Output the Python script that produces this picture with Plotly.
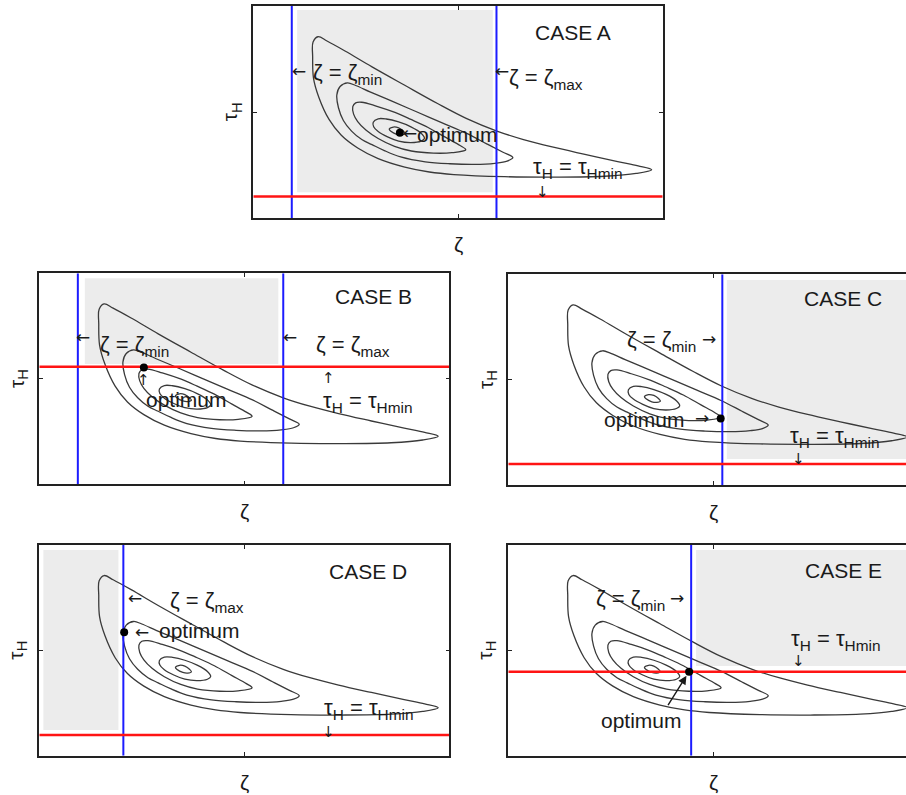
import plotly.graph_objects as go

# ---------------- data (panel units: x 0-100 across frame, y 0-100 up frame) -------------
cases = ["A", "B", "C", "D", "E"]
zeta_min = [9.4, 9.4, 52.2, None, 44.6]
zeta_max = [59.4, 59.5, None, 20.5, None]
tau_h_min = [10.2, 55.7, 10.0, 9.8, 39.9]
optimum_x = [35.8, 25.5, 51.8, 20.7, 44.1]
optimum_y = [40.2, 55.4, 31.6, 58.6, 39.9]
# feasible (shaded) region per case
shade_x0 = [10.7, 11.1, 53.3, 1.0, 45.8]
shade_x1 = [58.5, 58.3, 100.0, 19.3, 100.0]
shade_y0 = [12.1, 57.0, 12.3, 12.2, 42.6]
shade_y1 = [98.1, 97.6, 97.3, 97.6, 97.6]

# objective contours (same in every panel)
contour_1_x = [49, 61.4, 73.6, 85.8, 93.5, 97.3, 94.0, 89.0, 81.0, 73.0, 66.0, 59.5, 52.0,
               45.0, 37.0, 29.0, 22.4, 18.0, 15.8, 14.6, 14.5, 14.7, 16.0, 18.5, 21.5, 25.5,
               30.5, 37.0, 43.0, 49]
contour_1_y = [20.5, 19.5, 19.3, 19.7, 21.0, 22.8, 24.6, 26.6, 30.0, 33.5, 37.0, 41.0, 47.0,
               54.0, 62.6, 71.3, 78.8, 83.5, 85.5, 83.0, 76.0, 66.0, 57.0, 46.5, 39.0, 33.0,
               28.0, 24.0, 21.7, 20.5]
contour_2_x = [42, 48, 54, 59, 62, 63.4, 61, 57, 52, 46, 40, 34, 28.5, 25, 23, 21.2, 20.4,
               20.8, 22, 24, 26.5, 29, 32, 36, 42]
contour_2_y = [26.5, 25.6, 25.3, 25.8, 26.8, 28.5, 31, 35, 40, 45, 50, 55, 59.5, 62.5, 63.7,
               62, 58, 52, 46, 41, 37, 34.6, 31.8, 28.8, 26.5]
contour_3_x = [38.6, 44, 48.5, 51.9, 50.5, 47, 42.7, 38.5, 34.6, 30, 26.5, 25, 24.3, 24.5,
               25.5, 27.5, 30.5, 34.5, 38.6]
contour_3_y = [31.6, 30.6, 30.8, 32.2, 34.2, 38, 42.7, 46.5, 49.8, 52.8, 54.6, 54.3, 52.5,
               49.0, 45.5, 41.5, 37.5, 33.8, 31.6]
contour_4_x = [35.5, 38.5, 41, 41.8, 41, 38.5, 35.5, 32.5, 30.5, 29.3, 29.4, 30.5, 32.8, 35.5]
contour_4_y = [36.3, 35.6, 36.3, 37.6, 40, 43, 45.3, 46.7, 46.8, 45.2, 43, 40.8, 38.3, 36.3]
contour_5_x = [35.0, 36.2, 37.1, 36.7, 35.5, 34.2, 33.2, 33.6, 35.0]
contour_5_y = [39.5, 39.2, 39.8, 40.9, 42.5, 42.9, 41.9, 40.9, 39.5]
contours = [(contour_1_x, contour_1_y), (contour_2_x, contour_2_y), (contour_3_x, contour_3_y),
            (contour_4_x, contour_4_y), (contour_5_x, contour_5_y)]

# ---------------- layout geometry (pixels) -------------
W, H = 906, 795
frames = {  # left, right, top, bottom in px
    "A": (253.3, 662.7, 6, 218),
    "B": (39.3, 449.3, 273.3, 484.3),
    "C": (508.3, 918.3, 274.3, 485),
    "D": (39.3, 449.3, 545, 755.7),
    "E": (508.3, 918.3, 545, 755.7),
}

FONT = "Liberation Sans, Arial, sans-serif"
ARFONT = "DejaVu Sans, sans-serif"
INK = "#1a1a1a"
BLUE = "#1c1cff"
RED = "#ff1414"

fig = go.Figure()
layout = dict(width=W, height=H, margin=dict(l=0, r=0, t=0, b=0),
              paper_bgcolor="white", plot_bgcolor="white", showlegend=False)
shapes, annotations = [], []

for i, c in enumerate(cases):
    n = "" if i == 0 else str(i + 1)
    xa, ya = "x" + n, "y" + n
    l, r, t, b = frames[c]
    r_vis = min(r, W)
    xmax = 100.0 * (r_vis - l) / (r - l)
    common = dict(showline=True, linecolor="#222", linewidth=1.5, ticks="inside", ticklen=4,
                  tickwidth=1.2, tickcolor="#222", tickvals=[50], showticklabels=False,
                  showgrid=False, zeroline=False, fixedrange=True)
    layout["xaxis" + n] = dict(common, domain=[l / W, r_vis / W], range=[0, xmax],
                               anchor=ya, mirror="ticks")
    layout["yaxis" + n] = dict(common, domain=[1 - b / H, 1 - t / H], range=[0, 100],
                               anchor=xa, mirror="ticks" if r <= W else False)

    # feasible region
    shapes.append(dict(type="rect", xref=xa, yref=ya, x0=shade_x0[i], x1=shade_x1[i],
                       y0=shade_y0[i], y1=shade_y1[i], fillcolor="#ececec",
                       line=dict(width=0), layer="below"))
    # contours
    for cx, cy in contours:
        fig.add_trace(go.Scatter(x=cx, y=cy, xaxis=xa, yaxis=ya, mode="lines",
                                 line=dict(color="#3a3a3a", width=1.3, shape="spline",
                                           smoothing=1.0),
                                 hoverinfo="skip"))
    # constraints
    for zv in (zeta_min[i], zeta_max[i]):
        if zv is not None:
            fig.add_trace(go.Scatter(x=[zv, zv], y=[0, 100], xaxis=xa, yaxis=ya, mode="lines",
                                     line=dict(color=BLUE, width=2), hoverinfo="skip"))
    fig.add_trace(go.Scatter(x=[0, 100], y=[tau_h_min[i], tau_h_min[i]], xaxis=xa, yaxis=ya,
                             mode="lines", line=dict(color=RED, width=2.5), hoverinfo="skip"))
    # optimum
    fig.add_trace(go.Scatter(x=[optimum_x[i]], y=[optimum_y[i]], xaxis=xa, yaxis=ya,
                             mode="markers", marker=dict(color="black", size=8),
                             hoverinfo="skip"))
    # axis titles
    annotations.append(dict(xref="paper", yref="paper", x=((l + r) / 2) / W,
                            y=1 - (b + 27) / H, text="ζ", showarrow=False,
                            xanchor="center", yanchor="middle",
                            font=dict(family=FONT, size=21, color=INK)))
    annotations.append(dict(xref="paper", yref="paper", x=(l - 22) / W,
                            y=1 - ((t + b) / 2) / H, text="τ<sub>H</sub>", showarrow=False,
                            xanchor="center", yanchor="middle",
                            textangle=-90, font=dict(family=FONT, size=21, color=INK)))


def ann(i, x, y, text, size=22, xanchor="center", yanchor="middle", family=FONT):
    n = "" if i == 0 else str(i + 1)
    annotations.append(dict(xref="x" + n, yref="y" + n, x=x, y=y, text=text, showarrow=False,
                            xanchor=xanchor, yanchor=yanchor,
                            font=dict(family=family, size=size, color=INK)))


def arrow(i, x, y, glyph):
    size = 15 if glyph in ("↑", "↓") else 17
    ann(i, x, y, glyph, size, family=ARFONT)


ZMIN = "ζ = ζ<sub>min</sub>"
ZMAX = "ζ = ζ<sub>max</sub>"
TAU = "τ<sub>H</sub> = τ<sub>Hmin</sub>"
TS = 22   # size of the constraint labels
CS = 21   # size of CASE / optimum labels

# CASE A
ann(0, 78.2, 87.6, "CASE A", CS)
arrow(0, 11.1, 69.5, "←")
ann(0, 14.0, 68.0, ZMIN, TS, "left")
arrow(0, 60.7, 69.5, "←")
ann(0, 61.9, 65.5, ZMAX, TS, "left")
arrow(0, 38.3, 40.0, "←")
ann(0, 39.6, 39.2, "optimum", CS, "left")
ann(0, 79.4, 23.5, TAU, TS)
arrow(0, 70.7, 12.2, "↓")

# CASE B
ann(1, 81.6, 88.9, "CASE B", CS)
arrow(1, 10.7, 70.0, "←")
ann(1, 14.2, 65.5, ZMIN, TS, "left")
arrow(1, 61.1, 70.0, "←")
ann(1, 67.0, 65.5, ZMAX, TS, "left")
arrow(1, 70.5, 50.2, "↑")
ann(1, 80.2, 39.0, TAU, TS)
arrow(1, 25.5, 49.4, "↑")
ann(1, 35.9, 40.0, "optimum", CS)

# CASE C
ann(2, 81.7, 88.6, "CASE C", CS)
ann(2, 46.3, 68.5, ZMIN, TS, "right")
arrow(2, 49.0, 69.3, "→")
ann(2, 22.8, 31.3, "optimum", CS, "left")
arrow(2, 47.2, 31.9, "→")
ann(2, 79.7, 22.8, TAU, TS)
arrow(2, 70.7, 12.2, "↓")

# CASE D
ann(3, 80.2, 87.3, "CASE D", CS)
arrow(3, 23.3, 74.7, "←")
ann(3, 31.3, 73.0, ZMAX, TS, "left")
arrow(3, 25.0, 58.6, "←")
ann(3, 28.8, 59.3, "optimum", CS, "left")
ann(3, 80.4, 22.3, TAU, TS)
arrow(3, 70.5, 11.2, "↓")

# CASE E
ann(4, 81.7, 88.1, "CASE E", CS)
ann(4, 38.6, 73.7, ZMIN, TS, "right")
arrow(4, 41.2, 74.7, "→")
ann(4, 79.9, 54.8, TAU, TS)
arrow(4, 70.7, 44.8, "↓")
ann(4, 32.5, 16.9, "optimum", CS)
annotations.append(dict(xref="x5", yref="y5", x=optimum_x[4], y=optimum_y[4], text="",
                        showarrow=True, ax=-22, ay=35, arrowhead=2, arrowsize=1.2,
                        arrowwidth=1.4, arrowcolor=INK, standoff=5))

layout["shapes"] = shapes
layout["annotations"] = annotations
fig.update_layout(**layout)
fig.write_html("out.html")
